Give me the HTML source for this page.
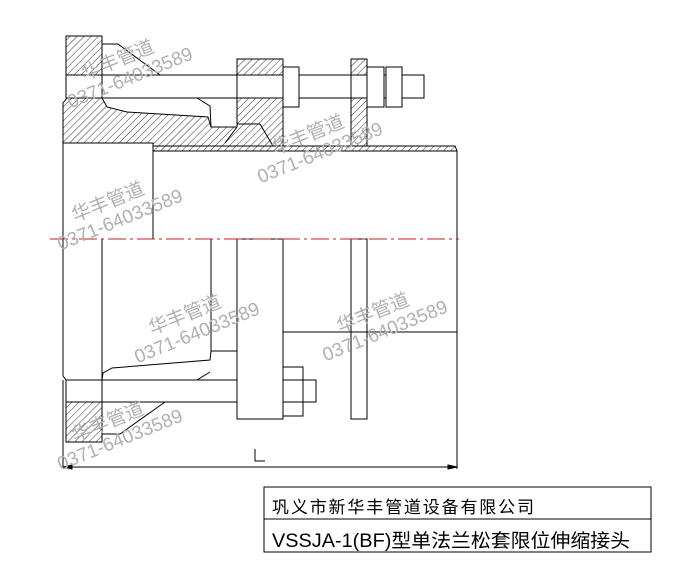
<!DOCTYPE html>
<html><head><meta charset="utf-8"><style>
html,body{margin:0;padding:0;background:#fff;width:700px;height:579px;overflow:hidden}
svg{display:block}
.wm{font-family:"Liberation Sans","Noto Sans CJK SC",sans-serif;fill:#b0b0b0;font-size:19px}
</style></head><body>
<svg width="700" height="579" viewBox="0 0 700 579" xmlns="http://www.w3.org/2000/svg">
<defs>
<pattern id="h" patternUnits="userSpaceOnUse" width="5" height="5" patternTransform="rotate(45)">
<line x1="0" y1="0" x2="0" y2="5" stroke="#000" stroke-width="0.8"/>
</pattern>
</defs>
<g stroke="#000" stroke-width="1" fill="none">
<rect x="66" y="36" width="36" height="39" fill="url(#h)"/>
<rect x="237" y="59" width="46" height="16" fill="url(#h)"/>
<rect x="351" y="59" width="16" height="16" fill="url(#h)"/>
<polygon points="63,103 67,98 102,98 107,107 127,112 208,117 211,127 237,127 237,98 283,98 283,146 153,146 153,143 63,143" fill="url(#h)"/>
<line x1="225" y1="143" x2="237" y2="127"/>
<line x1="237" y1="124" x2="260" y2="124"/><line x1="260" y1="124" x2="273" y2="146"/>
<rect x="351" y="98" width="16" height="48" fill="url(#h)"/>
<polygon points="153,146 455,146 457,151 153,151" fill="url(#h)"/>
<rect x="66" y="402" width="36" height="40" fill="url(#h)"/>
<rect x="66" y="75" width="358" height="23" fill="#fff"/>
<line x1="102" y1="75" x2="102" y2="98"/>
<line x1="237" y1="75" x2="237" y2="98"/><line x1="283" y1="75" x2="283" y2="98"/>
<line x1="351" y1="75" x2="351" y2="98"/><line x1="367" y1="75" x2="367" y2="98"/>
<rect x="283" y="67" width="16" height="40" fill="#fff"/>
<rect x="367" y="67" width="17" height="40" fill="#fff"/>
<rect x="386" y="67" width="16" height="40" fill="#fff"/>
<polyline points="102,44 118,44 160,75"/>
<polyline points="197,98 210,106 211,127"/>
<line x1="63" y1="143" x2="63" y2="376"/><line x1="63" y1="376" x2="66" y2="380"/>
<line x1="63" y1="380" x2="63" y2="469"/>
<line x1="153" y1="151" x2="153" y2="239"/>
<line x1="457" y1="151" x2="457" y2="469"/>
<line x1="102" y1="239" x2="102" y2="442"/>
<line x1="211" y1="239" x2="211" y2="351"/>
<rect x="351" y="239" width="16" height="180"/>
<line x1="283" y1="332" x2="457" y2="332"/>
<polyline points="102,380 103,373 112,368 210,360 211,351 237,351"/>
<line x1="197" y1="380" x2="210" y2="372"/>
<rect x="66" y="380" width="250" height="22" fill="none"/>
<rect x="237" y="239" width="46" height="180" fill="#fff"/>
<rect x="283" y="367" width="20" height="49" fill="#fff"/>
<rect x="283" y="380" width="33" height="22" fill="none"/>
<polyline points="102,434 120,434 165,402"/>
<line x1="63" y1="467" x2="457" y2="467"/>
<polygon points="63,467 72,465 72,469" fill="#000"/>
<polygon points="457,467 448,465 448,469" fill="#000"/>
<polyline points="255,449 255,461 265,461"/>
<rect x="264" y="487" width="387" height="65"/>
<line x1="264" y1="519" x2="651" y2="519"/>
</g>
<line x1="50" y1="239" x2="459" y2="239" stroke="#c0202a" stroke-width="1" stroke-dasharray="18,4,3,4"/>
<text x="272" y="513" font-family="'Liberation Sans','Noto Sans CJK SC',sans-serif" font-size="17" fill="#000" textLength="262" lengthAdjust="spacing">巩义市新华丰管道设备有限公司</text>
<text x="272" y="547" font-family="'Liberation Sans','Noto Sans CJK SC',sans-serif" font-size="19" fill="#000" textLength="358" lengthAdjust="spacingAndGlyphs">VSSJA-1(BF)型单法兰松套限位伸缩接头</text>
<g class="wm">
<g transform="translate(85,80) rotate(-22)"><text x="0" y="0">华丰管道</text><text x="-24" y="21">0371-64033589</text></g>
<g transform="translate(275,155) rotate(-22)"><text x="0" y="0">华丰管道</text><text x="-24" y="21">0371-64033589</text></g>
<g transform="translate(75,222) rotate(-22)"><text x="0" y="0">华丰管道</text><text x="-24" y="21">0371-64033589</text></g>
<g transform="translate(152,335) rotate(-22)"><text x="0" y="0">华丰管道</text><text x="-24" y="21">0371-64033589</text></g>
<g transform="translate(340,333) rotate(-22)"><text x="0" y="0">华丰管道</text><text x="-24" y="21">0371-64033589</text></g>
<g transform="translate(75,442) rotate(-22)"><text x="0" y="0">华丰管道</text><text x="-24" y="21">0371-64033589</text></g>
</g>
</svg>
</body></html>
